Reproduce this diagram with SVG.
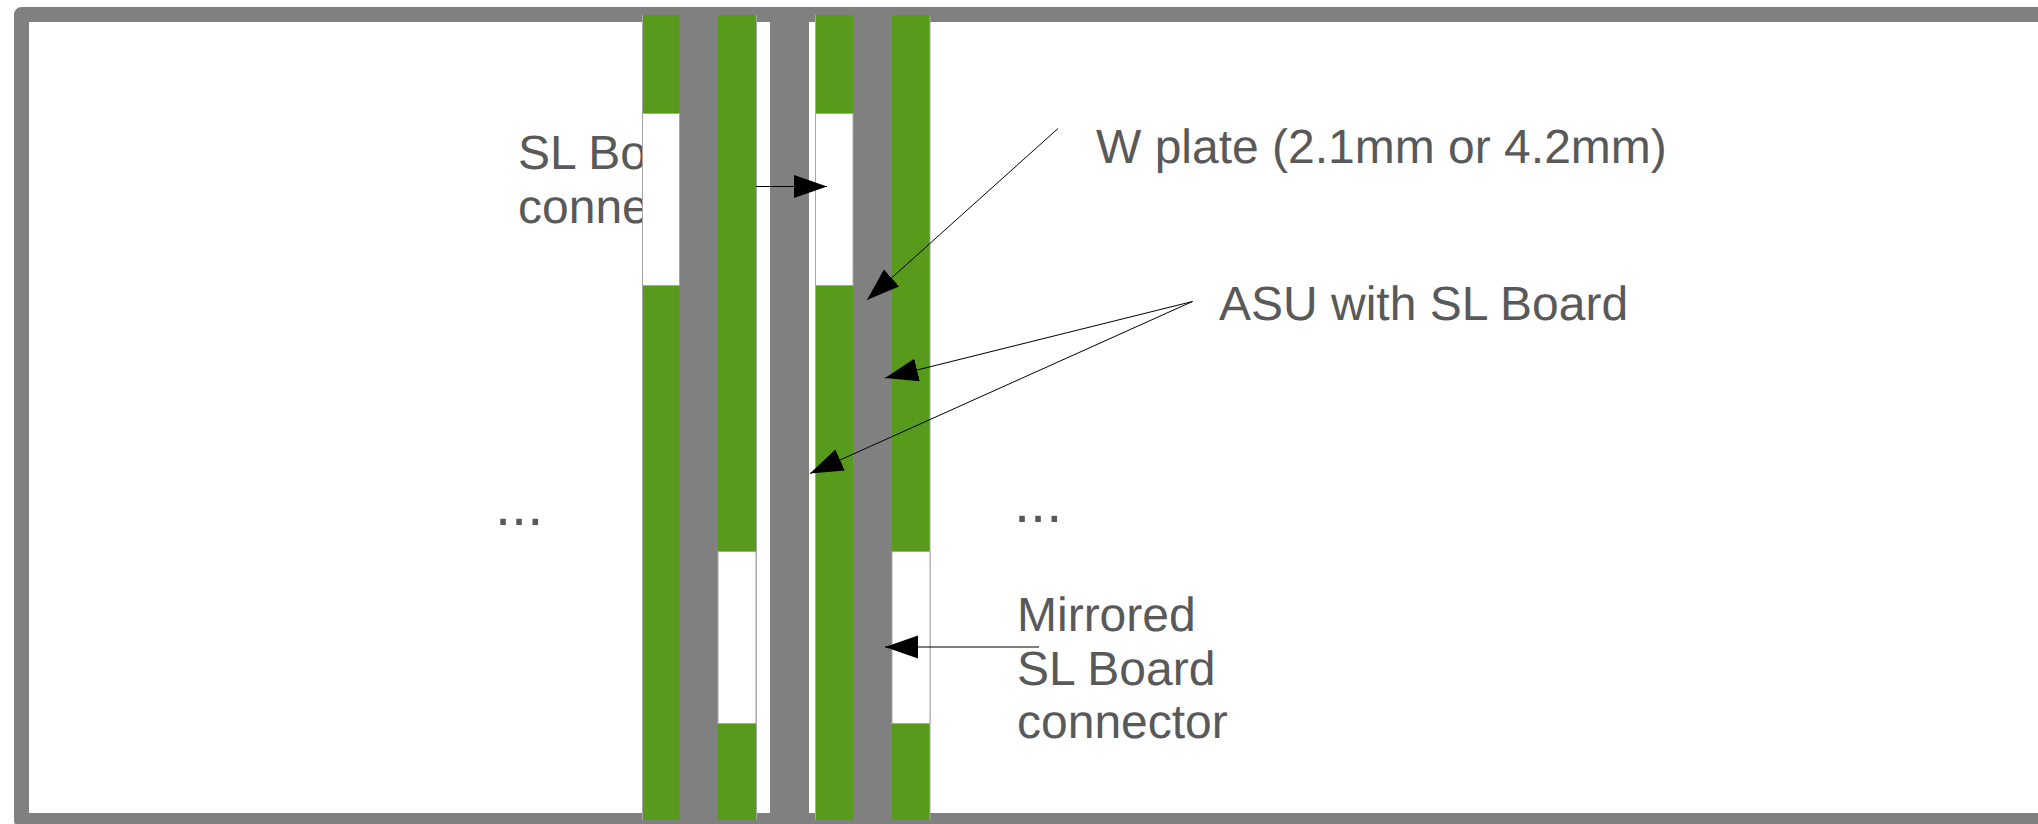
<svg xmlns="http://www.w3.org/2000/svg" width="2038" height="824" viewBox="0 0 2038 824">
<style>
text{font-family:"Liberation Sans",Arial,sans-serif;font-size:48px;fill:#595959;text-rendering:geometricPrecision;opacity:.999}
text.d{font-size:58px}
.g{fill:#589a1c}
.s{fill:#808080}
.o{fill:none;stroke:#a6a6a6;stroke-width:1}
.w{fill:#fff;stroke:#a6a6a6;stroke-width:1}
.c{stroke:#000;stroke-width:1;fill:none;marker-end:url(#a)}
</style>
<defs>
<marker id="a" markerUnits="userSpaceOnUse" markerWidth="34" markerHeight="24" refX="33" refY="11.5" orient="auto"><path d="M0 0L33 11.5L0 23z" fill="#000"/></marker>
</defs>
<rect width="2038" height="824" fill="#fff"/>
<g id="frame"><rect x="21.5" y="14.5" width="2040" height="806" fill="#fff" stroke="#808080" stroke-width="15" stroke-linejoin="round"/></g>
<g id="label-sl"><text x="518" y="169">SL Bo</text><text x="518" y="223">conne</text></g>
<g id="label-dots-left"><text class="d" x="495" y="525">...</text></g>
<g id="label-dots-right"><text class="d" x="1014" y="522">...</text></g>
<g id="plate-1"><rect class="s" x="679" y="15" width="39" height="805"/></g>
<g id="plate-2"><rect class="s" x="770" y="15" width="39" height="805"/></g>
<g id="plate-3"><rect class="s" x="853" y="15" width="39" height="805"/></g>
<g id="board-1"><rect class="g" x="642.500" y="15" width="37" height="805"/><path class="o" d="M642.500 15V820"/><rect class="w" x="642.500" y="113.500" width="37" height="172"/></g>
<g id="board-2"><rect class="g" x="718" y="15" width="38" height="805"/><path class="o" d="M756.500 15V820"/><rect class="w" x="718" y="551.500" width="38" height="172"/></g>
<g id="board-3"><rect class="g" x="816" y="15" width="37" height="805"/><path class="o" d="M815.500 15V820"/><rect class="w" x="815.500" y="113.500" width="37.500" height="172"/></g>
<g id="board-4"><rect class="g" x="892" y="15" width="38" height="805"/><path class="o" d="M930 15V820"/><rect class="w" x="892" y="551.500" width="38" height="172"/></g>
<g id="labels">
<text x="1096" y="163">W plate (2.1mm or 4.2mm)</text>
<text x="1219" y="320">ASU with SL Board</text>
<text x="1017" y="631">Mirrored</text>
<text x="1017" y="685">SL Board</text>
<text x="1017" y="738">connector</text>
</g>
<g id="connectors">
<path class="c" d="M756 186.500H827"/>
<path class="c" d="M1058 128.500L867 300"/>
<path class="c" d="M1192.500 301.500L885 378"/>
<path class="c" d="M1192.500 301.500L810 473.500"/>
<path class="c" d="M1039 647H885"/>
</g>
</svg>
